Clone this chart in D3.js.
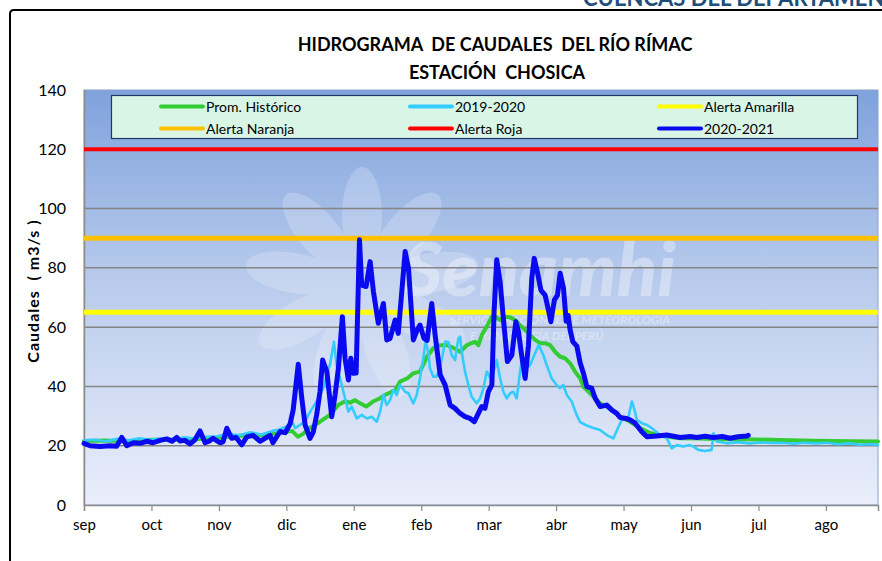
<!DOCTYPE html>
<html><head><meta charset="utf-8">
<script src="https://cdn.jsdelivr.net/npm/d3@7"></script>
<style>
html,body{margin:0;padding:0;background:#fff;}
svg{display:block;font-family:Lato,"Open Sans",sans-serif;}
</style></head>
<body>
<svg id="c" width="882" height="561"></svg>
<script>
// ---------- DATA ----------
const months = ["sep","oct","nov","dic","ene","feb","mar","abr","may","jun","jul","ago"];
const yTicks = [0,20,40,60,80,100,120,140];
const alertAmarilla = 65, alertNaranja = 90, alertRoja = 120;
// days counted from 1 September
const promHistorico = [[0,21.6],[10,21.8],[20,21.4],[30,22],[45,22],[60,22.6],[70,23.4],[80,23.5],[90,24.5],[93.8,25],[96.5,23],[98.8,24],[101.9,26],[106.4,28.1],[110.9,30.4],[114.6,33.7],[117.7,35],[120,34.5],[122.2,35.4],[124.5,34.3],[127.2,33.2],[130.3,34.9],[133.5,36],[135.7,37.1],[140.3,38.8],[142.5,41.6],[145.7,42.7],[148.4,44.4],[151.5,45],[154.6,50],[157.5,52.9],[160.6,53.9],[163.6,53.9],[166.6,53],[169.6,51.7],[172.6,53.9],[176.3,55.1],[177.8,53.9],[179.4,57.4],[181.6,60.2],[183.9,63.5],[185.4,63.5],[187.6,62.4],[189.9,63.5],[192.1,63.3],[194.4,62.4],[196.6,60.7],[198.9,59],[201.1,57.4],[203.4,55.7],[205.7,54.6],[207.9,54.6],[210.2,53.9],[212.4,51.7],[214.7,50],[216.9,49.5],[219.2,47.8],[221.4,45],[223.7,42.7],[225.2,39.9],[228.2,37.7],[232.7,34.3],[237.2,32.6],[241.7,29.8],[246.2,28.1],[250.7,26],[255.2,24.3],[261,23.3],[268.8,22.5],[277.8,22.4],[286.8,22.2],[298.9,22.2],[314,21.9],[328.8,21.7],[345.5,21.5],[358,21.4]];
const serie2019 = [[0,21.8],[5,22],[10,21.5],[15,22.3],[20,21.8],[25,22.5],[30,22],[35,22.5],[40,22.2],[45,22.8],[50,22.4],[55,23],[60,23.2],[65,24],[70,23.5],[75,24.5],[80,23.8],[85,25],[88,25.5],[91,26.4],[94,28],[95.2,25.9],[97.3,27],[99.7,28.1],[101.1,30.4],[103.4,33.2],[105.6,36],[107.9,39.4],[110.2,46.1],[110.9,47.2],[112.7,55.1],[113.9,47.2],[116.2,40.5],[117.7,36],[119.2,31.5],[120.7,33.2],[123,29.2],[125.2,30.4],[127.5,29.2],[129.7,29.8],[132,28.1],[133.5,31.5],[135,37.1],[136.5,33.7],[138,35.4],[139.5,38.8],[141,37.1],[142.5,40.5],[144.8,38.2],[146.3,37.7],[148.5,34.3],[150,37.1],[151.5,42.8],[153,49.6],[154,55.1],[155.2,51.7],[156,46.1],[157.5,43.3],[158.9,43.3],[160.1,45.5],[161.4,49.5],[162.8,55.1],[164.3,55],[165.8,50.6],[167.3,48.9],[168.8,56.2],[169.6,56.8],[170.3,51.7],[171.8,45],[173.3,40.5],[174.8,36.5],[177.1,34.3],[178.6,36],[180.1,39.4],[181.6,45],[183.1,43],[184.6,44.5],[186.1,48.9],[187.6,42.7],[189.1,38.2],[190.6,36],[192.1,37.7],[193.6,38.2],[195.1,36],[196.6,45],[197.4,48.4],[199,46],[201,47],[203,50.5],[205,54],[207.1,50.6],[208.6,47.2],[210.9,42.7],[213.1,40.5],[214.7,39.4],[216.1,40.5],[217.7,37.1],[219.9,34.9],[222.1,30.4],[223.7,28],[226.7,26.8],[229.7,26],[232.7,25.3],[235.7,23.6],[238.7,22.5],[241,26.4],[242.5,28.7],[245.5,29.8],[247,34.9],[247.8,33.2],[249.3,28.7],[251.5,27.6],[253.8,27],[256.1,25.9],[259.8,23.6],[262.8,22.5],[265,19.1],[267.3,20.2],[270.3,19.7],[272.5,20.2],[274.8,19.7],[277,18.6],[280,18.2],[283,18.6],[283.8,24.2],[285.3,21.4],[290,20.8],[295,21.2],[300,20.8],[305,21.1],[310,20.9],[315,21],[320,20.7],[325,21],[330,20.8],[335,21],[340,20.5],[345,20.8],[350,20.3],[355,20.6],[358,20.2]];
const serie2020 = [[0,20.8],[2.7,20],[7.2,19.7],[11.7,20],[14.7,19.8],[17,22.8],[19.3,20],[22.2,21],[25.3,20.8],[28.4,21.5],[31.1,21],[34.3,21.8],[37.3,22.3],[39.7,21.5],[41.8,22.8],[43.3,21.6],[45.5,21.8],[47.8,20.6],[50,22],[52.3,25],[54.6,21],[56.4,21.5],[58.2,22.5],[61.3,21],[62.7,21.3],[64.4,25.9],[66.6,22.5],[68.6,22.8],[71.1,20.3],[73.4,23],[76.2,23.5],[79.4,21.5],[81.6,22.5],[83.9,23.5],[85.2,21],[88.4,24.8],[90.7,24.4],[92.9,27.3],[94.3,32],[95.2,38],[96.6,47.5],[98.2,36],[99.7,27],[101.9,22.5],[103.4,24.7],[104.9,30.4],[106.4,38.2],[107.6,48.9],[109.5,45],[111.7,29.8],[113.2,37.1],[114.7,46.1],[116.5,63.5],[117.7,49.5],[119.2,42.2],[120.3,49.5],[121.5,44.4],[122.7,44.5],[124.2,89.5],[125.2,74.2],[127.2,73.7],[129,82.1],[130.5,72],[132.7,61.3],[135,68],[136.5,55.7],[138,56.2],[140.3,62.4],[141.7,57.9],[144.8,85.5],[146.3,79.9],[148.5,55.7],[150.2,59],[151.5,60.7],[153.3,56.2],[154.7,55.5],[156.8,68],[158.3,57.4],[160.6,43.9],[162.8,40.5],[165.1,33.7],[167.3,32.6],[169.6,30.9],[171.8,29.8],[174.1,29.2],[176,28.1],[177.8,30.9],[179.3,33.2],[180.8,32.6],[182.3,38.2],[183.9,40.5],[184.9,65.2],[186.1,82.7],[187.6,75.3],[189.2,62],[190.9,48.4],[192.9,50.6],[194.7,61.8],[195.9,58.5],[197.1,51.7],[198.9,42.7],[200.4,53.9],[201.9,76.5],[203,83.2],[204.4,78.7],[206,72.5],[207.9,70.8],[209.4,65.8],[210.5,61.8],[212.1,69.2],[213.5,70.8],[214.7,78.2],[216.2,73.1],[217.4,62],[218.3,64],[219.2,59],[220.4,55.1],[222.2,53.6],[223.7,48],[225.2,44.4],[226.7,39.9],[228.9,39.4],[230.5,36],[232.7,33.2],[235.7,33.7],[238,32],[240.2,30.9],[241.7,29.5],[244.4,29.2],[246.2,28.7],[248.5,27.6],[251.5,24.7],[253.8,23],[258.3,23.3],[262.8,23.6],[268.8,22.8],[273.3,23.1],[276.3,22.8],[280,23.2],[283.8,22.8],[287.7,23.1],[291.3,22.5],[294.9,23],[298.9,23.3],[299.5,23.5]];

// ---------- LAYOUT ----------
const svg = d3.select("#c");
const L = 84, R = 878, T = 90, B = 505;
const daysPerMonth = 30.41;
const x = d3.scaleLinear().domain([0, 358]).range([L, R]);
const y = d3.scaleLinear().domain([0, 140]).range([B, T]);

const defs = svg.append("defs");
const g = defs.append("linearGradient").attr("id","bg").attr("x1",0).attr("y1",0).attr("x2",0).attr("y2",1);
g.append("stop").attr("offset","0%").attr("stop-color","#7fa2dd");
g.append("stop").attr("offset","45%").attr("stop-color","#b7caec");
g.append("stop").attr("offset","100%").attr("stop-color","#eaeefb");

// frame & header
svg.append("text").attr("x",583).attr("y",6).attr("font-size",22).attr("font-weight","bold")
  .attr("fill","#1f4e79").text("CUENCAS DEL DEPARTAMENTO");
svg.append("path").attr("d","M10,561 L10,14 Q10,10 14,10 L882,10").attr("fill","none").attr("stroke","#000").attr("stroke-width",2);

// title
svg.append("text").attr("x",495).attr("y",51).attr("text-anchor","middle").attr("font-size",18).attr("font-weight","bold")
  .attr("xml:space","preserve").text("HIDROGRAMA  DE CAUDALES  DEL RÍO RÍMAC");
svg.append("text").attr("x",497).attr("y",79).attr("text-anchor","middle").attr("font-size",18).attr("font-weight","bold")
  .attr("xml:space","preserve").text("ESTACIÓN  CHOSICA");

// plot background
svg.append("rect").attr("x",L).attr("y",T).attr("width",R-L).attr("height",B-T).attr("fill","url(#bg)")
  .attr("stroke","#8da2c8").attr("stroke-width",1);

// watermark
const wm = svg.append("g").attr("opacity",0.2);
const cx = 362, cy = 285;
for (let i = 0; i < 9; i++) {
  wm.append("ellipse").attr("cx",cx).attr("cy",cy-70).attr("rx",20).attr("ry",48)
    .attr("transform",`rotate(${i*40},${cx},${cy})`).attr("fill","#ffffff");
}
wm.append("circle").attr("cx",cx).attr("cy",cy).attr("r",52).attr("fill","#ffffff");
svg.append("text").attr("x",404).attr("y",296).attr("font-size",74).attr("font-weight","900").attr("font-style","italic")
  .attr("fill","#ffffff").attr("opacity",0.35).text("Senamhi");
svg.append("text").attr("x",450).attr("y",324).attr("font-size",12).attr("font-weight","bold").attr("font-style","italic")
  .attr("fill","#ffffff").attr("opacity",0.35).text("SERVICIO NACIONAL DE METEOROLOGÍA");
svg.append("text").attr("x",470).attr("y",340).attr("font-size",12).attr("font-weight","bold").attr("font-style","italic")
  .attr("fill","#ffffff").attr("opacity",0.35).text("E HIDROLOGÍA DEL PERÚ");

// gridlines
svg.append("g").selectAll("line").data(yTicks.filter(v => v > 0 && v < 140)).join("line")
  .attr("x1",L).attr("x2",R).attr("y1",d=>y(d)).attr("y2",d=>y(d))
  .attr("stroke","#858585").attr("stroke-width",1.5);

// axes
const xAxis = svg.append("g").attr("transform",`translate(0,${B})`)
  .call(d3.axisBottom(x).tickValues(months.map((m,i)=>i*daysPerMonth)).tickFormat((d,i)=>months[i]).tickSize(6).tickPadding(8));
xAxis.select(".domain").attr("stroke","#8c8c8c").attr("stroke-width",1.5);
xAxis.selectAll(".tick line").attr("stroke","#8c8c8c").attr("stroke-width",1.2);
xAxis.selectAll("text").attr("font-size",15).attr("fill","#000").attr("font-family","Lato, sans-serif");

const yAxis = svg.append("g").attr("transform",`translate(${L},0)`)
  .call(d3.axisLeft(y).tickValues(yTicks).tickSize(0).tickPadding(18));
yAxis.select(".domain").attr("stroke","#8c8c8c").attr("stroke-width",1.5);
yAxis.selectAll("text").attr("font-size",16).attr("fill","#000").attr("font-family","Lato, sans-serif");

svg.append("text").attr("transform","translate(39,291) rotate(-90)").attr("text-anchor","middle")
  .attr("font-size",16).attr("font-weight","bold").attr("letter-spacing",1).attr("xml:space","preserve")
  .text("Caudales  ( m3/s )");

// series
const line = d3.line().x(d=>x(d[0])).y(d=>y(d[1]));
const plot = svg.append("g");
plot.append("path").datum(promHistorico).attr("d",line).attr("fill","none").attr("stroke","#33cc33")
  .attr("stroke-width",4).attr("stroke-linejoin","round").attr("stroke-linecap","round");
plot.append("path").datum(serie2019).attr("d",line).attr("fill","none").attr("stroke","#33ccff")
  .attr("stroke-width",2.6).attr("stroke-linejoin","round").attr("stroke-linecap","round");
const alerts = [[alertAmarilla,"#ffff00",5],[alertNaranja,"#ffc000",5],[alertRoja,"#ff0000",4]];
plot.selectAll(".al").data(alerts).join("line").attr("class","al")
  .attr("x1",L).attr("x2",R).attr("y1",d=>y(d[0])).attr("y2",d=>y(d[0]))
  .attr("stroke",d=>d[1]).attr("stroke-width",d=>d[2]);
plot.append("path").datum(serie2020).attr("d",line).attr("fill","none").attr("stroke","#0a0af0")
  .attr("stroke-width",5).attr("stroke-linejoin","round").attr("stroke-linecap","round");

// legend
svg.append("rect").attr("x",111.5).attr("y",95.5).attr("width",746).attr("height",43)
  .attr("fill","#d9f5e6").attr("stroke","#1f3864").attr("stroke-width",1.2);
const legendItems = [
  ["Prom. Histórico","#33cc33",0,0],["2019-2020","#33ccff",1,0],["Alerta Amarilla","#ffff00",2,0],
  ["Alerta Naranja","#ffc000",0,1],["Alerta Roja","#ff0000",1,1],["2020-2021","#0a0af0",2,1]];
const colX = [161, 410, 659], rowY = [106.5, 128.5];
const lg = svg.append("g").selectAll("g").data(legendItems).join("g")
  .attr("transform",d=>`translate(${colX[d[2]]},${rowY[d[3]]})`);
lg.append("line").attr("x1",0).attr("x2",42).attr("stroke",d=>d[1]).attr("stroke-width",4).attr("stroke-linecap","round");
lg.append("text").attr("x",45).attr("y",5).attr("font-size",14).text(d=>d[0]);
</script>
</body></html>
